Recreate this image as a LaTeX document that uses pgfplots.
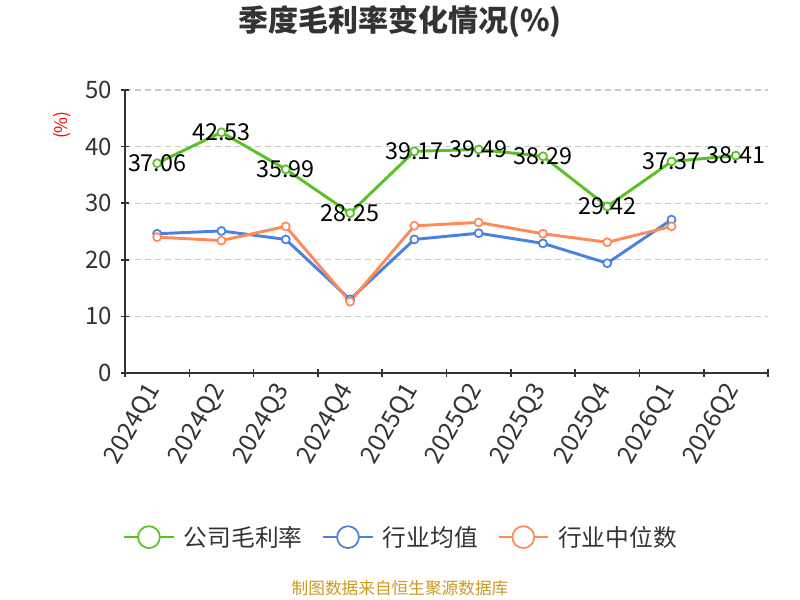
\documentclass[border=0pt]{standalone}
\usepackage{pgfplots}
\pgfplotsset{compat=1.18}
\usepackage{fontspec}
\setmainfont{Noto Sans CJK SC}
\definecolor{cgreen}{RGB}{88,194,37}
\definecolor{cblue}{RGB}{74,128,224}
\definecolor{corange}{RGB}{255,138,88}
\definecolor{caxis}{RGB}{51,51,51}
\definecolor{cgrid}{RGB}{200,200,200}
\definecolor{csrc}{RGB}{204,153,34}
\begin{document}
\begin{tikzpicture}
\useasboundingbox (0,0) rectangle (600pt,450pt);
\node[font=\bfseries\fontsize{22.5}{26}\selectfont, text=caxis] at (300pt,433.5pt) {季度毛利率变化情况(\%)};
\node[font=\fontsize{12.5}{15}\selectfont, text=csrc] at (300pt,8.5pt) {制图数据来自恒生聚源数据库};
\begin{axis}[
  /pgf/number format/assume math mode=true,
  at={(93.75pt,170.25pt)}, anchor=south west,
  scale only axis, width=482.25pt, height=212.25pt,
  xmin=-0.5, xmax=9.5, ymin=0, ymax=50,
  ytick={0,10,...,50},
  xtick={0,...,9},
  xticklabels={\mbox{2024Q1},\mbox{2024Q2},\mbox{2024Q3},\mbox{2024Q4},\mbox{2025Q1},\mbox{2025Q2},\mbox{2025Q3},\mbox{2025Q4},\mbox{2026Q1},\mbox{2026Q2}},
  minor xtick={-0.5,0.5,...,9.5},
  major x tick style={draw=none},
  tick align=outside,
  major tick length=6pt, minor tick length=6pt,
  tick style={caxis, line width=1.2pt},
  axis x line=bottom, axis y line=left,
  axis line style={-, caxis, line width=1.5pt},
  ymajorgrids, major grid style={cgrid, dash pattern=on 4.5pt off 3pt, line width=0.8pt},
  xticklabel shift=4pt,
  yticklabel shift=3pt,
  xticklabel style={rotate=60, anchor=east, font=\fontsize{18.5}{22}\selectfont, text=caxis},
  yticklabel style={font=\fontsize{18}{22}\selectfont, text=caxis},
  ylabel={(\%)},
  ylabel style={at={(axis description cs:-0.098,0.876)}, anchor=center, text=red, font=\fontsize{13}{15}\selectfont},
  clip=false,
  legend style={at={(axis description cs:0.43,-0.58)}, anchor=center, draw=none, fill=none,
    legend columns=3, font=\fontsize{17.8}{21}\selectfont, text=caxis,
    /tikz/every odd column/.append style={column sep=5pt},
    /tikz/every even column/.append style={column sep=13pt}},
  legend cell align=left,
]
\addplot[cgreen, line width=2.2pt, mark=*, mark size=3pt, mark options={fill=white, line width=1.3pt},
  nodes near coords={\pgfmathprintnumber[fixed,fixed zerofill,precision=2]{\pgfplotspointmeta}},
  nodes near coords style={anchor=center, text=black, font=\fontsize{17.5}{21}\selectfont},
  legend image code/.code={\draw[line width=1.3pt] (0pt,0pt) -- (37pt,0pt); \draw[line width=1.3pt, fill=white] (18.5pt,0pt) circle (8.2pt);}]
  coordinates {(0,37.06) (1,42.53) (2,35.99) (3,28.25) (4,39.17) (5,39.49) (6,38.29) (7,29.42) (8,37.37) (9,38.41)};
\addlegendentry{公司毛利率}
\addplot[cblue, line width=2.2pt, mark=*, mark size=3pt, mark options={fill=white, line width=1.3pt},
  legend image code/.code={\draw[line width=1.3pt] (0pt,0pt) -- (37pt,0pt); \draw[line width=1.3pt, fill=white] (18.5pt,0pt) circle (8.2pt);}]
  coordinates {(0,24.6) (1,25.1) (2,23.6) (3,13.0) (4,23.6) (5,24.7) (6,22.9) (7,19.4) (8,27.1)};
\addlegendentry{行业均值}
\addplot[corange, line width=2.2pt, mark=*, mark size=3pt, mark options={fill=white, line width=1.3pt},
  legend image code/.code={\draw[line width=1.3pt] (0pt,0pt) -- (37pt,0pt); \draw[line width=1.3pt, fill=white] (18.5pt,0pt) circle (8.2pt);}]
  coordinates {(0,24.0) (1,23.4) (2,25.9) (3,12.6) (4,26.0) (5,26.6) (6,24.6) (7,23.1) (8,25.9)};
\addlegendentry{行业中位数}
\end{axis}
\end{tikzpicture}
\end{document}
